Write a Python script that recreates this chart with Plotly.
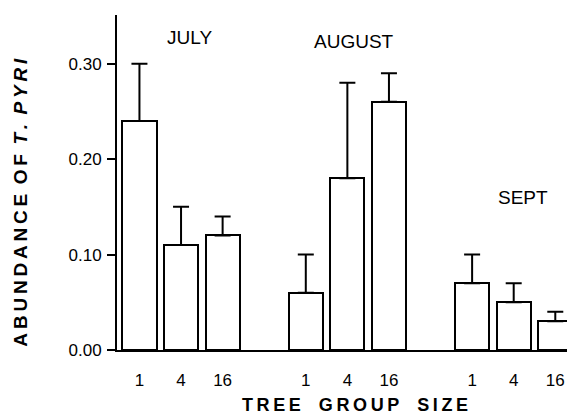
import plotly.graph_objects as go

months = ["JULY", "AUGUST", "SEPT"]
group_sizes = ["1", "4", "16"]
abundance = [0.24, 0.11, 0.12, 0.06, 0.18, 0.26, 0.07, 0.05, 0.03]
error_upper = [0.06, 0.04, 0.02, 0.04, 0.10, 0.03, 0.03, 0.02, 0.01]

positions = []
labels = []
for g in range(len(months)):
    for i, s in enumerate(group_sizes):
        positions.append(g * 4 + i)
        labels.append(s)

font_family = "Liberation Sans, Arial, Helvetica, sans-serif"
TS = "\u2009"


def spaced(s, sep=TS, word_sep="\u2002"):
    return word_sep.join(sep.join(w) for w in s.split(" "))


fig = go.Figure()
fig.add_trace(go.Bar(
    x=positions, y=abundance, width=0.82,
    marker=dict(color="white", line=dict(color="black", width=2)),
    error_y=dict(type="data", array=error_upper, arrayminus=[0]*len(error_upper),
                 symmetric=False, color="black", thickness=2, width=8),
    showlegend=False,
))

month_x = [1.21, 5.17, 9.22]
month_y = [0.327, 0.323, 0.160]
for m, mx, my in zip(months, month_x, month_y):
    fig.add_annotation(x=mx, y=my, text=m, showarrow=False,
                       xanchor="center", yanchor="middle",
                       font=dict(family=font_family, size=19, color="black"))

ytitle = "<b>" + spaced("ABUNDANCE OF") + "\u2002<i>" + spaced("T. PYRI") + "</i></b>"
xtitle = "<b>" + spaced("TREE GROUP SIZE", sep="\u2009", word_sep="\u2003") + "</b>"

fig.add_annotation(xref="paper", yref="paper", x=-0.210, y=0.440, text=ytitle,
                   textangle=-90, showarrow=False, xanchor="center", yanchor="middle",
                   font=dict(family=font_family, size=19, color="black"))
fig.add_annotation(xref="paper", yref="paper", x=0.521, y=-0.164, text=xtitle,
                   showarrow=False, xanchor="center", yanchor="middle",
                   font=dict(family=font_family, size=18, color="black"))

# the page body has an 8px margin, so the figure is sized to fit the window
fig.update_layout(
    width=567, height=412,
    margin=dict(l=109, r=1, t=7, b=70),
    paper_bgcolor="white", plot_bgcolor="white",
    font=dict(family=font_family, color="black"),
    bargap=0,
)
fig.update_xaxes(
    range=[-0.54, 10.45], tickvals=positions, ticktext=labels,
    showgrid=False, zeroline=False, showline=True, linecolor="black", linewidth=2,
    ticks="", tickfont=dict(size=17), ticklabelstandoff=14, automargin=False,
)
fig.update_yaxes(
    range=[0, 0.351], tickvals=[0, 0.1, 0.2, 0.3], ticktext=["0.00", "0.10", "0.20", "0.30"],
    showgrid=False, zeroline=False, showline=True, linecolor="black", linewidth=2,
    ticks="outside", ticklen=8, tickwidth=2, tickcolor="black", tickfont=dict(size=17),
    ticklabelstandoff=2, automargin=False,
)

fig.write_html("out.html")
